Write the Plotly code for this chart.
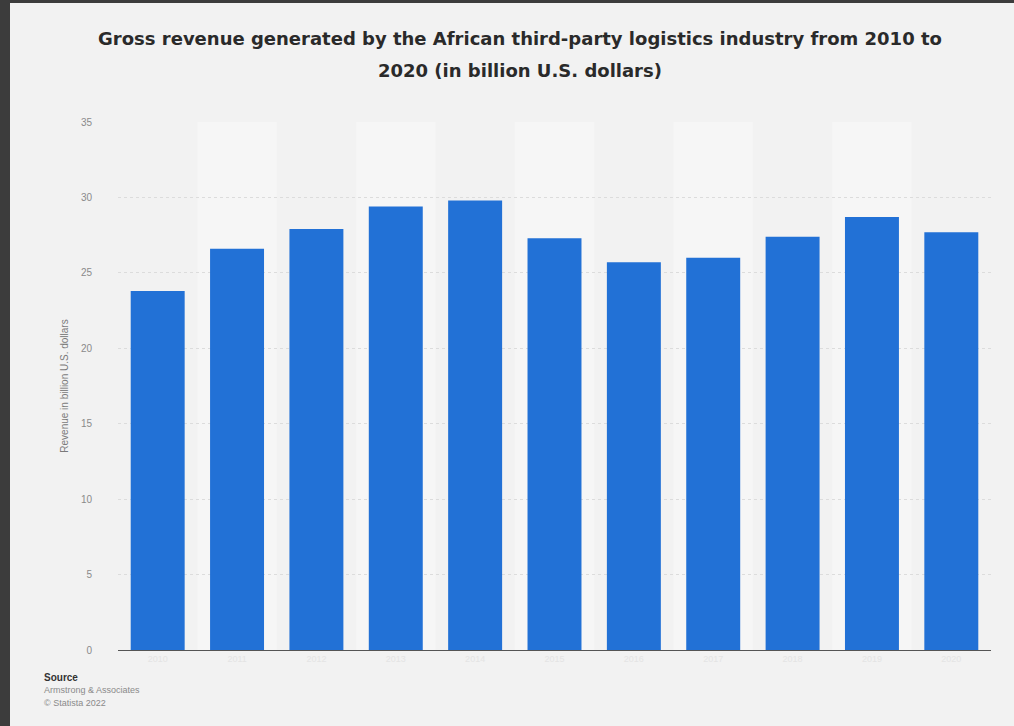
import plotly.graph_objects as go

years = [str(y) for y in range(2010, 2021)]
revenue = [23.8, 26.6, 27.9, 29.4, 29.8, 27.3, 25.7, 26.0, 27.4, 28.7, 27.7]
y_ticks = [0, 5, 10, 15, 20, 25, 30, 35]

title_line1 = "<b>Gross revenue generated by the African third-party logistics industry from 2010 to</b>"
title_line2 = "<b>2020 (in billion U.S. dollars)</b>"
y_title = "Revenue in billion U.S. dollars"
source_lines = ["<b>Source</b>", "Armstrong & Associates", "© Statista 2022"]

W, H = 1014, 726
L, R, T, B = 118, 23, 122, 76
pw, ph = W - L - R, H - T - B
title_font = dict(family="DejaVu Sans, Liberation Sans, sans-serif", size=18, color="#2a2a2a")

fig = go.Figure()
fig.add_trace(go.Bar(x=years, y=revenue, marker_color="#2271d6", marker_line_width=0,
                     hoverinfo="x+y"))

shapes = []
# light panel over dark border
shapes.append(dict(type="rect", xref="paper", yref="paper",
                   x0=(10 - L) / pw, x1=(W - L) / pw,
                   y0=-B / ph, y1=(H - 3 - B) / ph,
                   fillcolor="#f2f2f2", line_width=0, layer="below"))
# alternating subtle bands
for i in range(1, len(years), 2):
    shapes.append(dict(type="rect", xref="x", yref="y", x0=i - 0.5, x1=i + 0.5,
                       y0=0, y1=max(y_ticks), fillcolor="#f6f6f6", line_width=0, layer="below"))

fig.update_layout(
    width=W, height=H,
    margin=dict(l=L, r=R, t=T, b=B),
    paper_bgcolor="#3c3c3c",
    plot_bgcolor="rgba(0,0,0,0)",
    bargap=0.32,
    showlegend=False,
    shapes=shapes,
    title=dict(text=title_line1, x=(520 - L) / pw, xref="paper", xanchor="center",
               y=(H - 39) / H, yanchor="middle", font=title_font),
    font=dict(family="Liberation Sans, Arial, sans-serif"),
)
fig.add_annotation(text=title_line2, xref="paper", yref="paper",
                   x=(520 - L) / pw, y=(H - 70 - B) / ph, xanchor="center", yanchor="middle",
                   showarrow=False, font=title_font)
fig.update_xaxes(showgrid=False, showline=True, linecolor="#555555", linewidth=1,
                 tickfont=dict(size=9, color="#e4e4e4"), ticks="")
fig.update_yaxes(range=[0, 35], tickvals=y_ticks, showgrid=True, gridcolor="#dcdcdc",
                 griddash="dot", zeroline=False, ticks="",
                 tickfont=dict(size=10, color="#8a8a8a"), ticklabelstandoff=25,
                 title=dict(text=y_title, font=dict(size=10, color="#7a7a7a"), standoff=10))

for k, line in enumerate(source_lines):
    fig.add_annotation(text=line, xref="paper", yref="paper",
                       x=(42 - L) / pw, y=-(27 + 13 * k) / ph,
                       xanchor="left", yanchor="middle", showarrow=False,
                       font=dict(size=9 if k else 10, color="#333333" if k == 0 else "#8a8a8a"))

fig.write_html("out.html",
               config={"displayModeBar": False},
               post_script="document.body.style.margin='0';"
                           "document.body.style.background='#3c3c3c';"
                           "document.body.style.overflow='hidden';")
